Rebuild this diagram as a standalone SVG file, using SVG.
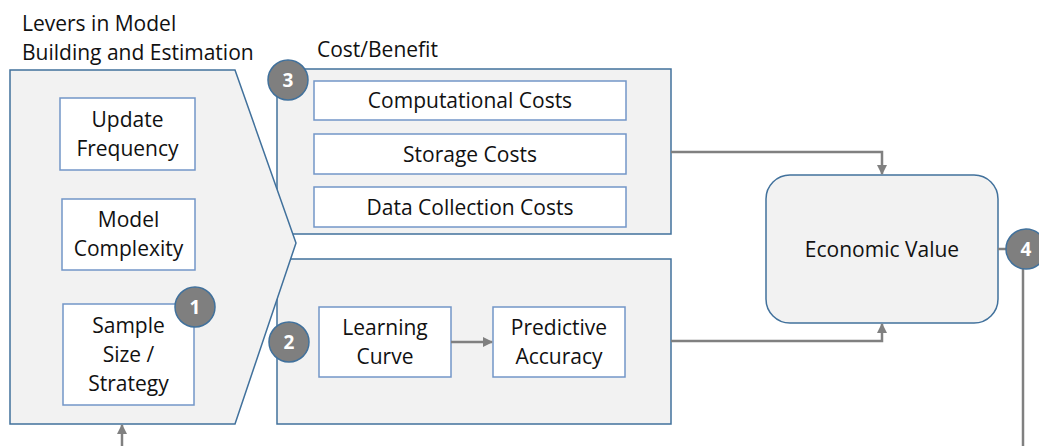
<svg xmlns="http://www.w3.org/2000/svg" width="1039" height="446" viewBox="0 0 1039 446">
  <style>
    text { font-family: "Open Sans", "Noto Sans", "Liberation Sans", sans-serif; font-size: 21px; fill: #111; }
    .mid { text-anchor: middle; }
    .panel { fill: #f2f2f2; stroke: #41719c; stroke-width: 1.5; }
    .item { fill: #ffffff; stroke: #7396c8; stroke-width: 1.5; }
    .badge circle { fill: #7f7f7f; stroke: #41719c; stroke-width: 1.5; }
    .badge text { fill: #ffffff; font-weight: bold; font-size: 19px; text-anchor: middle; }
    .wire { fill: none; stroke: #808080; stroke-width: 2.5; }
  </style>
  <defs>
    <marker id="arrow" viewBox="0 0 10 10" refX="9" refY="5" markerWidth="4" markerHeight="4" orient="auto" markerUnits="strokeWidth">
      <path d="M0,0 L10,5 L0,10 z" fill="#808080"/>
    </marker>
  </defs>

  <rect width="1039" height="446" fill="#ffffff"/>

  <!-- headings -->
  <text x="22" y="31">Levers in Model</text>
  <text x="22" y="60">Building and Estimation</text>
  <text x="317" y="57">Cost/Benefit</text>

  <!-- cost/benefit panel -->
  <g id="cost-benefit">
    <rect class="panel" x="277" y="69" width="394" height="165"/>
  </g>
  <!-- accuracy panel -->
  <g id="accuracy-panel">
    <rect class="panel" x="277" y="259" width="394" height="165"/>
  </g>

  <!-- levers chevron, drawn over the panels' left edges -->
  <g id="levers">
    <polygon class="panel" points="10,70 235,70 296,243 235,424 10,424"/>
  </g>

  <g id="update-frequency">
    <rect class="item" x="60" y="98" width="135" height="72"/>
    <text class="mid" x="127.5" y="127">Update</text>
    <text class="mid" x="127.5" y="156">Frequency</text>
  </g>
  <g id="model-complexity">
    <rect class="item" x="62" y="199" width="133" height="71"/>
    <text class="mid" x="128.5" y="227">Model</text>
    <text class="mid" x="128.5" y="256">Complexity</text>
  </g>
  <g id="sample-size">
    <rect class="item" x="63" y="304" width="131" height="101"/>
    <text class="mid" x="128.5" y="333">Sample</text>
    <text class="mid" x="128.5" y="362">Size /</text>
    <text class="mid" x="128.5" y="391">Strategy</text>
  </g>

  <g id="computational-costs">
    <rect class="item" x="314" y="81" width="312" height="39"/>
    <text class="mid" x="470" y="108">Computational Costs</text>
  </g>
  <g id="storage-costs">
    <rect class="item" x="314" y="134" width="312" height="40"/>
    <text class="mid" x="470" y="162">Storage Costs</text>
  </g>
  <g id="data-collection-costs">
    <rect class="item" x="314" y="187" width="312" height="40"/>
    <text class="mid" x="470" y="215">Data Collection Costs</text>
  </g>

  <g id="learning-curve">
    <rect class="item" x="319" y="307" width="132" height="70"/>
    <text class="mid" x="385" y="335">Learning</text>
    <text class="mid" x="385" y="364">Curve</text>
  </g>
  <g id="predictive-accuracy">
    <rect class="item" x="493" y="307" width="132" height="70"/>
    <text class="mid" x="559" y="335">Predictive</text>
    <text class="mid" x="559" y="364">Accuracy</text>
  </g>

  <g id="economic-value">
    <rect class="panel" x="766" y="175" width="232" height="148" rx="24" ry="24"/>
    <text class="mid" x="882" y="257">Economic Value</text>
  </g>

  <!-- connectors -->
  <g id="connectors">
    <line class="wire" x1="451" y1="342" x2="492" y2="342" marker-end="url(#arrow)"/>
    <polyline class="wire" points="671,152 882,152 882,174" marker-end="url(#arrow)"/>
    <polyline class="wire" points="671,341 882,341 882,324" marker-end="url(#arrow)"/>
    <line class="wire" x1="998" y1="249" x2="1008" y2="249"/>
    <line class="wire" x1="1023" y1="266" x2="1023" y2="446"/>
    <line class="wire" x1="122" y1="446" x2="122" y2="425" marker-end="url(#arrow)"/>
  </g>

  <!-- numbered badges -->
  <g id="badge-1" class="badge">
    <circle cx="195" cy="307" r="20"/>
    <text x="195" y="314">1</text>
  </g>
  <g id="badge-2" class="badge">
    <circle cx="289" cy="342" r="20"/>
    <text x="289" y="349">2</text>
  </g>
  <g id="badge-3" class="badge">
    <circle cx="288" cy="80" r="20"/>
    <text x="288" y="87">3</text>
  </g>
  <g id="badge-4" class="badge">
    <circle cx="1026" cy="249" r="20"/>
    <text x="1026" y="256">4</text>
  </g>
</svg>
